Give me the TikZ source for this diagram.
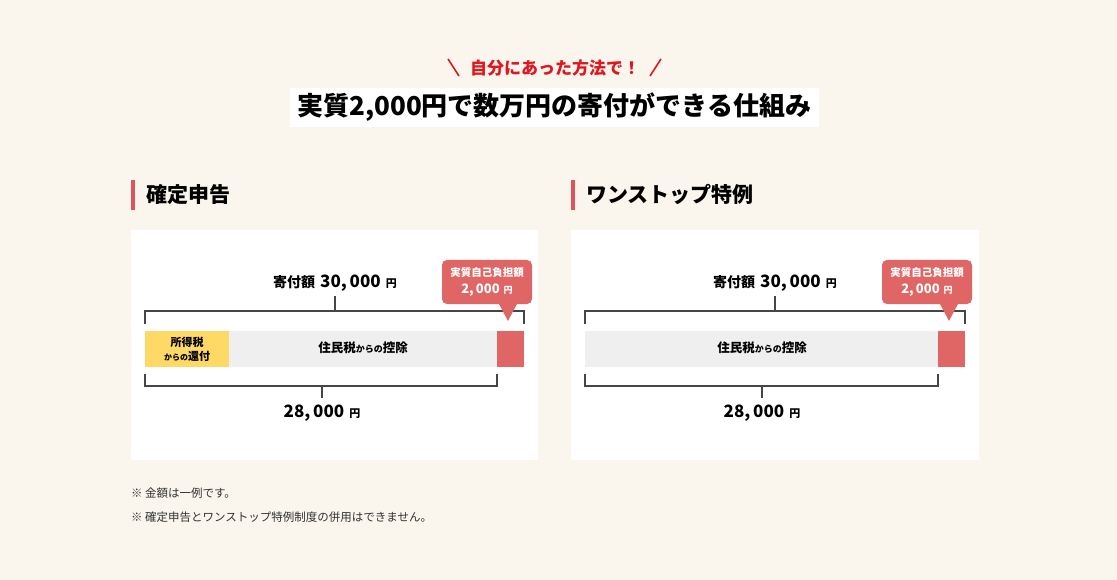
\documentclass[tikz,border=0pt]{standalone}
\usepackage{fontspec}
\setmainfont{Noto Sans CJK JP}
\definecolor{bgc}{RGB}{250,246,238}
\definecolor{subred}{RGB}{224,22,32}
\definecolor{hbarc}{RGB}{222,84,92}
\definecolor{pred}{RGB}{224,102,102}
\definecolor{pyel}{RGB}{255,217,102}
\definecolor{pgray}{RGB}{239,239,239}
\definecolor{linec}{RGB}{70,70,70}
\definecolor{notec}{RGB}{50,50,50}
\newcommand{\fs}[1]{\fontsize{#1}{#1}\selectfont}
\begin{document}
\begin{tikzpicture}[x=1pt,y=-1pt,
  every node/.style={inner sep=0pt,outer sep=0pt},
  subt/.style={text=subred,font=\fs{17}\bfseries},
  ttl/.style={text=black,font=\fs{26}\bfseries},
  head/.style={text=black,font=\fs{21}\bfseries,anchor=west},
  lbl/.style={text=black,font=\bfseries},
  br/.style={draw=linec,line width=1.2pt},
  note/.style={text=notec,font=\fs{11.5},anchor=west},
  callout/.style={fill=pred,rounded corners=5pt},
  ctext/.style={text=white,font=\bfseries}]
\fill[bgc] (0,0) rectangle (1117,580);
\useasboundingbox (0,0) rectangle (1117,580);
% subtitle
\node[subt] (sub) at (555,68) {自分にあった方法で！};
\draw[subred,line width=1.6pt] (448,59) -- (459,76);
\draw[subred,line width=1.6pt] (661,59) -- (650,76);
% title
\fill[white] (290,88) rectangle (819,127);
\node[ttl] (title) at (554.5,107) {実質2,000円で数万円の寄付ができる仕組み};
% headings
\fill[hbarc] (131,180) rectangle (134.5,210);
\node[head] (h1) at (146,195) {確定申告};
\fill[hbarc] (571,180) rectangle (574.5,210);
\node[head] (h2) at (586,195) {ワンストップ特例};
% panels
\fill[white] (131,230) rectangle (538,460);
\fill[white] (571,230) rectangle (979,460);
% ---- left diagram
\node[lbl] (lt) at (335,283) {{\fs{14}寄付額}\hspace{5pt}{\fs{17}30,\,000}\hspace{5pt}{\fs{11}円}};
\draw[br] (145,324) -- (145,311) -- (524,311) -- (524,324);
\draw[br] (335,311) -- (335,296);
\fill[pyel] (145,331) rectangle (229,367);
\fill[pgray] (229,331) rectangle (497,367);
\fill[pred] (497,331) rectangle (524,367);
\node[lbl,font=\fs{11}\bfseries] (y1) at (187,342) {所得税};
\node[lbl] (y2) at (187,356.5) {{\fs{8}からの}{\fs{11}還付}};
\node[lbl] (g1) at (363,348) {{\fs{12.5}住民税}{\fs{9}からの}{\fs{12.5}控除}};
\draw[br] (145,374) -- (145,386) -- (497,386) -- (497,374);
\draw[br] (322,386) -- (322,398);
\node[lbl] (lb) at (322,413) {{\fs{17}28,\,000}\hspace{5pt}{\fs{11}円}};
\fill[callout] (442,260) rectangle (532,304);
\fill[pred] (498,302) -- (518,302) -- (508,321) -- cycle;
\node[ctext,font=\fs{10.5}\bfseries] (c1) at (487,273) {実質自己負担額};
\node[ctext] (c2) at (487,290) {{\fs{13}2,\,000}\hspace{4pt}{\fs{9}円}};
% ---- right diagram
\node[lbl] (rt) at (775,283) {{\fs{14}寄付額}\hspace{5pt}{\fs{17}30,\,000}\hspace{5pt}{\fs{11}円}};
\draw[br] (585,324) -- (585,311) -- (965,311) -- (965,324);
\draw[br] (775,311) -- (775,296);
\fill[pgray] (585,331) rectangle (938,367);
\fill[pred] (938,331) rectangle (965,367);
\node[lbl] (rg1) at (762,348) {{\fs{12.5}住民税}{\fs{9}からの}{\fs{12.5}控除}};
\draw[br] (585,374) -- (585,386) -- (938,386) -- (938,374);
\draw[br] (762,386) -- (762,398);
\node[lbl] (rb) at (762,413) {{\fs{17}28,\,000}\hspace{5pt}{\fs{11}円}};
\fill[callout] (882,260) rectangle (972,304);
\fill[pred] (939,302) -- (959,302) -- (949,321) -- cycle;
\node[ctext,font=\fs{10.5}\bfseries] (rc1) at (927,273) {実質自己負担額};
\node[ctext] (rc2) at (927,290) {{\fs{13}2,\,000}\hspace{4pt}{\fs{9}円}};
% notes
\node[note] (n1) at (131,493) {※ 金額は一例です。};
\node[note] (n2) at (131,517) {※ 確定申告とワンストップ特例制度の併用はできません。};
\end{tikzpicture}
\end{document}
